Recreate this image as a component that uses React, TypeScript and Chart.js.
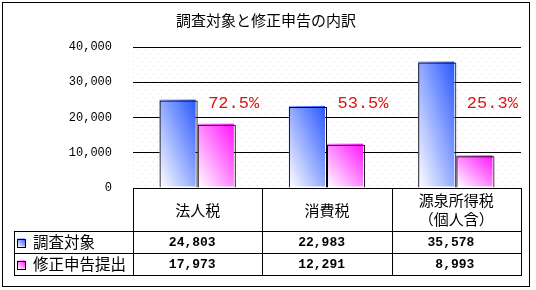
import React, { useEffect, useRef } from "react";
import { Chart, registerables } from "chart.js";

Chart.register(...registerables);

const chartTitle = "調査対象と修正申告の内訳";
const categories: (string | string[])[] = ["法人税", "消費税", ["源泉所得税", "（個人含）"]];
const seriesNames = ["調査対象", "修正申告提出"];
const surveyed = [24803, 22983, 35578];
const amended = [17973, 12291, 8993];
const yMin = 0;
const yMax = 40000;
const yStep = 10000;

const JP = '"Noto Sans CJK JP", "Noto Sans", sans-serif';
const MONO = '"Liberation Mono", "DejaVu Sans Mono", monospace';
const seriesColors = ["#2a58ff", "#ff14ff"];

function fillGradientRect(ctx: CanvasRenderingContext2D, x: number, y: number, w: number, h: number, color: string) {
  if (w <= 0 || h <= 0) return;
  ctx.save();
  ctx.translate(x, y);
  ctx.scale(w, h);
  const g = ctx.createLinearGradient(1, 0, 0, 1);
  g.addColorStop(0, color);
  g.addColorStop(1, "#ffffff");
  ctx.fillStyle = g;
  ctx.fillRect(0, 0, 1, 1);
  ctx.restore();
}

const decorPlugin = {
  id: "decor",
  beforeDraw(chart: any) {
    const { ctx, chartArea } = chart;
    const pc = document.createElement("canvas");
    pc.width = 8;
    pc.height = 8;
    const p = pc.getContext("2d")!;
    p.fillStyle = "#ffffff";
    p.fillRect(0, 0, 8, 8);
    p.fillStyle = "#dadada";
    p.fillRect(1, 1, 1, 1);
    p.fillRect(5, 5, 1, 1);
    const pat = ctx.createPattern(pc, "repeat");
    ctx.save();
    ctx.fillStyle = "#ffffff";
    ctx.fillRect(0, 0, chart.width, chart.height);
    ctx.fillStyle = pat;
    ctx.fillRect(chartArea.left, chartArea.top, chartArea.right - chartArea.left, chartArea.bottom - chartArea.top);
    ctx.restore();
  },
  beforeDatasetsDraw(chart: any) {
    const { ctx } = chart;
    chart.data.datasets.forEach((ds: any, di: number) => {
      const meta = chart.getDatasetMeta(di);
      meta.data.forEach((el: any) => {
        const { x, y, base, width } = el.getProps(["x", "y", "base", "width"], true);
        const left = x - width / 2;
        fillGradientRect(ctx, left, y - 1, width - 2, base - y, seriesColors[di]);
      });
    });
  },
  afterDraw(chart: any) {
    const { ctx, chartArea } = chart;
    const xs = chart.scales.x;
    const n = categories.length;
    const centers = categories.map((_, i) => xs.getPixelForValue(i));
    const bounds: number[] = [chartArea.left];
    for (let i = 1; i < n; i++) bounds.push((centers[i - 1] + centers[i]) / 2);
    bounds.push(chartArea.right);

    const top = Math.round(chartArea.bottom);
    const headBottom = 231;
    const row1Bottom = 253;
    const row2Bottom = 275;
    const tableLeft = 14;
    const c = (v: number) => Math.round(v) + 0.5;

    ctx.save();
    ctx.strokeStyle = "#000";
    ctx.lineWidth = 1;
    ctx.beginPath();
    bounds.forEach((b) => {
      ctx.moveTo(c(b), top);
      ctx.lineTo(c(b), row2Bottom + 0.5);
    });
    [headBottom, row1Bottom, row2Bottom].forEach((yy) => {
      ctx.moveTo(tableLeft, yy + 0.5);
      ctx.lineTo(c(chartArea.right) + 0.5, yy + 0.5);
    });
    ctx.moveTo(tableLeft + 0.5, headBottom);
    ctx.lineTo(tableLeft + 0.5, row2Bottom + 1);
    ctx.stroke();

    // headers
    ctx.fillStyle = "#000";
    ctx.textAlign = "center";
    ctx.textBaseline = "middle";
    ctx.font = `15px ${JP}`;
    categories.forEach((cat, i) => {
      const cx = (bounds[i] + bounds[i + 1]) / 2;
      if (Array.isArray(cat)) {
        const lh = 19;
        const y0 = (top + headBottom) / 2 - ((cat.length - 1) * lh) / 2;
        cat.forEach((line, k) => ctx.fillText(line, cx, y0 + k * lh));
      } else {
        ctx.fillText(cat, cx, (top + headBottom) / 2 + 0.5);
      }
    });

    // rows
    const rows = [surveyed, amended];
    const rowTops = [headBottom, row1Bottom];
    const rowBottoms = [row1Bottom, row2Bottom];
    rows.forEach((vals, r) => {
      const cy = (rowTops[r] + rowBottoms[r]) / 2 + 0.5;
      fillGradientRect(ctx, 17, cy - 4, 8, 8, seriesColors[r]);
      ctx.strokeStyle = "#000";
      ctx.strokeRect(17.5, Math.round(cy - 4) + 0.5, 8, 8);
      ctx.fillStyle = "#000";
      ctx.textAlign = "left";
      ctx.font = `15.5px ${JP}`;
      ctx.fillText(seriesNames[r], 33, cy);
      ctx.textAlign = "right";
      ctx.font = `bold 13px ${MONO}`;
      vals.forEach((v, i) => {
        const cx = (bounds[i] + bounds[i + 1]) / 2;
        ctx.fillText(v.toLocaleString("en-US"), cx + 18, cy);
      });
    });

    // ratio labels
    ctx.fillStyle = "#dc1414";
    ctx.textAlign = "center";
    ctx.font = `17px ${MONO}`;
    categories.forEach((_, i) => {
      const pct = ((amended[i] / surveyed[i]) * 100).toFixed(1) + "%";
      ctx.fillText(pct, centers[i] + 36, chartArea.top + 56);
    });

    // title
    ctx.fillStyle = "#000";
    ctx.font = `15px ${JP}`;
    ctx.fillText(chartTitle, 266, 20);

    // outer frame
    ctx.strokeStyle = "#000";
    ctx.strokeRect(2.5, 2.5, 527, 284);
    ctx.restore();
  },
};

export default function App() {
  const ref = useRef<HTMLCanvasElement | null>(null);
  useEffect(() => {
    if (!ref.current) return;
    const chart = new Chart(ref.current, {
      type: "bar",
      data: {
        labels: categories.map((c) => (Array.isArray(c) ? c.join("") : c)),
        datasets: [
          {
            label: seriesNames[0],
            data: surveyed,
            backgroundColor: "rgba(0,0,0,0)",
            borderColor: "#000",
            borderWidth: 1,
          },
          {
            label: seriesNames[1],
            data: amended,
            backgroundColor: "rgba(0,0,0,0)",
            borderColor: "#000",
            borderWidth: 1,
          },
        ],
      },
      options: {
        responsive: false,
        animation: false,
        devicePixelRatio: 1,
        layout: { padding: { top: 47, bottom: 102, left: 0, right: 15 } },
        datasets: { bar: { categoryPercentage: 0.59, barPercentage: 1 } },
        plugins: { legend: { display: false }, title: { display: false }, tooltip: { enabled: false } },
        scales: {
          x: { display: false },
          y: {
            min: yMin,
            max: yMax,
            afterFit: (s: any) => {
              s.width = 133;
            },
            border: { display: false },
            grid: { color: "#000", lineWidth: 1, drawTicks: false },
            ticks: {
              stepSize: yStep,
              padding: 21,
              color: "#000",
              font: { family: MONO, size: 12 },
              callback: (v: any) => Number(v).toLocaleString("en-US"),
            },
          },
        },
      },
      plugins: [decorPlugin],
    });
    return () => chart.destroy();
  }, []);
  return (
    <div style={{ position: "absolute", left: 0, top: 0, width: 536, height: 290, background: "#fff" }}>
      <canvas ref={ref} width={536} height={290} style={{ display: "block" }} />
    </div>
  );
}
